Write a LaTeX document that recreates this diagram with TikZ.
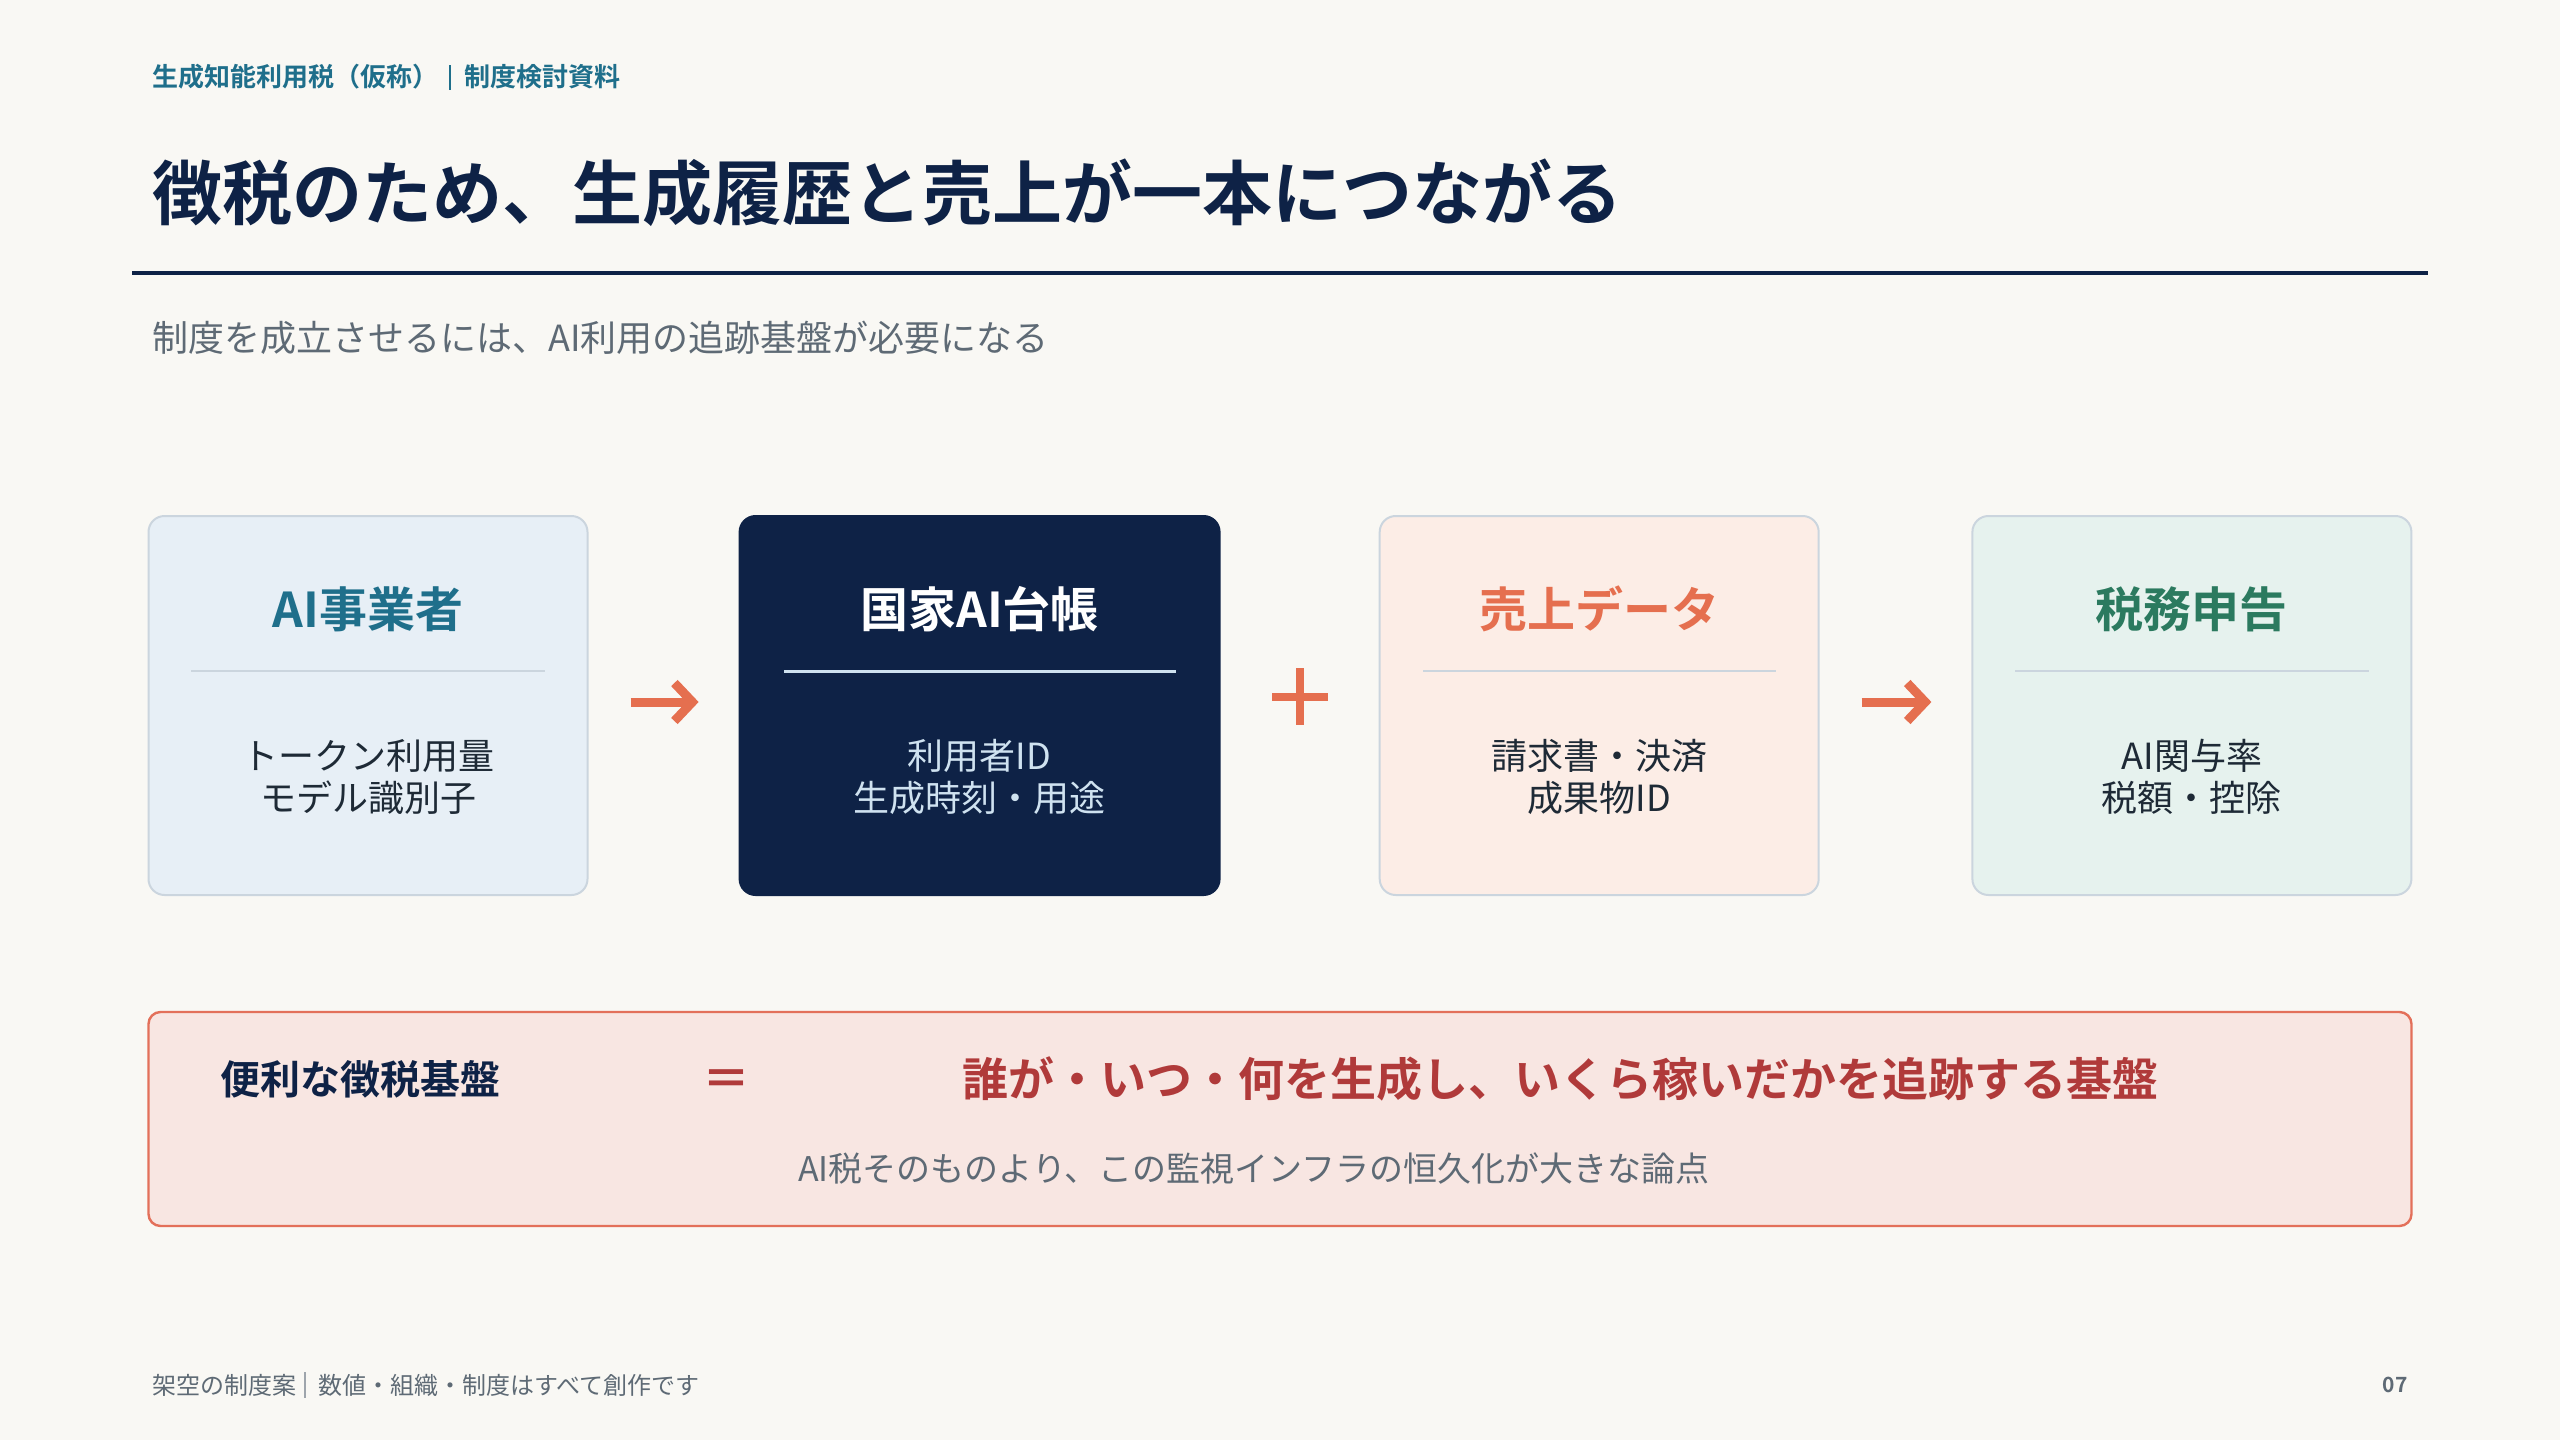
\documentclass[tikz,border=0pt]{standalone}
\usepackage{fontspec}
\setmainfont{Noto Sans CJK JP}[BoldFont={Noto Sans CJK JP Bold}]
\usetikzlibrary{arrows.meta}
\definecolor{bg}{HTML}{F9F8F4}
\definecolor{navy}{HTML}{0E2246}
\definecolor{tealc}{HTML}{1F6F8B}
\definecolor{coral}{HTML}{E56F4F}
\definecolor{greenc}{HTML}{2B7A5F}
\definecolor{redc}{HTML}{B03A3A}
\definecolor{grayt}{HTML}{5E6A75}
\definecolor{bodyt}{HTML}{1E2A36}
\definecolor{lightt}{HTML}{CFE2F0}
\definecolor{f1}{HTML}{E7EFF6}
\definecolor{f3}{HTML}{FCEDE6}
\definecolor{f4}{HTML}{E6F2EE}
\definecolor{bordc}{HTML}{CBD5DE}
\definecolor{botfill}{HTML}{F8E6E2}
\definecolor{botbord}{HTML}{E3705A}
\tikzset{
  card/.style={rectangle, rounded corners=8pt, line width=1pt, draw=bordc, minimum width=219.5pt, minimum height=189.5pt, inner sep=0pt},
  cardtitle/.style={inner sep=0pt, font=\fontsize{24pt}{28pt}\selectfont\bfseries},
  cardbody/.style={inner sep=0pt, align=center, font=\fontsize{18pt}{21pt}\selectfont},
  sepline/.style={line width=1pt, draw=bordc},
  flowarrow/.style={draw=coral, line width=4.5pt, -{Straight Barb[length=9pt, width=19pt, line width=4.5pt]}},
  plain/.style={inner sep=0pt, anchor=west}
}
\begin{document}
\begin{tikzpicture}[x=0.5pt,y=-0.5pt]
\fill[bg] (0,0) rectangle (2560,1440);
\useasboundingbox (0,0) rectangle (2560,1440);

% header
\node[plain, text=tealc, font=\fontsize{13pt}{15pt}\selectfont\bfseries] (hdrA) at (152,77) {生成知能利用税（仮称）};
\draw[tealc, line width=0.8pt] (450,65) -- (450,90);
\node[plain, text=tealc, font=\fontsize{13pt}{15pt}\selectfont\bfseries] (hdrB) at (464,77) {制度検討資料};

% title
\node[plain, text=navy, font=\fontsize{35pt}{42pt}\selectfont\bfseries] (title) at (152,193) {徴税のため、生成履歴と売上が一本につながる};
\draw[navy, line width=2pt] (132,273) -- (2428,273);
\node[plain, text=grayt, font=\fontsize{18pt}{21pt}\selectfont] (sub) at (152,338) {制度を成立させるには、AI利用の追跡基盤が必要になる};

% cards
\node[card, fill=f1] (b1) at (368,705.5) {};
\node[card, fill=navy, draw=navy, minimum width=240pt] (b2) at (979.6,705.5) {};
\node[card, fill=f3, draw=bordc] (b3) at (1599.2,705.5) {};
\node[card, fill=f4] (b4) at (2191.9,705.5) {};

\node[cardtitle, text=tealc] (t1) at (368,609) {AI事業者};
\node[cardtitle, text=white] (t2) at (979.6,609) {国家AI台帳};
\node[cardtitle, text=coral] (t3) at (1599.2,609) {売上データ};
\node[cardtitle, text=greenc] (t4) at (2191.9,609) {税務申告};

\draw[sepline] (191,671) -- (545,671);
\draw[line width=1.5pt, draw=lightt] (784,671) -- (1176,671);
\draw[sepline] (1423,671) -- (1776,671);
\draw[sepline] (2015,671) -- (2369,671);

\node[cardbody, text=bodyt] (d1) at (368,777) {トークン利用量\\モデル識別子};
\node[cardbody, text=lightt] (d2) at (979.6,777) {利用者ID\\生成時刻・用途};
\node[cardbody, text=bodyt] (d3) at (1599.2,777) {請求書・決済\\成果物ID};
\node[cardbody, text=bodyt] (d4) at (2191.9,777) {AI関与率\\税額・控除};

% connectors
\draw[flowarrow, shorten <=21pt, shorten >=20pt] (b1.east |- 0,702) -- (b2.west |- 0,702);
\draw[flowarrow, shorten <=21pt, shorten >=20pt] (b3.east |- 0,702) -- (b4.west |- 0,702);
\draw[coral, line width=4pt] (1272,697) -- (1328,697);
\draw[coral, line width=4pt] (1300,668) -- (1300,725);

% bottom box
\node[rectangle, rounded corners=6pt, fill=botfill, draw=botbord, line width=1.2pt, minimum width=1131.5pt, minimum height=107pt, inner sep=0pt] (bot) at (1280,1119) {};
\node[plain, text=navy, font=\fontsize{20pt}{24pt}\selectfont\bfseries] (lab) at (220,1079) {便利な徴税基盤};
\node[inner sep=0pt, text=redc, font=\fontsize{24pt}{28pt}\selectfont\bfseries] (eq) at (726,1083) {＝};
\node[inner sep=0pt, text=redc, font=\fontsize{23pt}{28pt}\selectfont\bfseries] (main) at (1560,1079) {誰が・いつ・何を生成し、いくら稼いだかを追跡する基盤};
\node[inner sep=0pt, text=grayt, font=\fontsize{17pt}{20pt}\selectfont] (note) at (1254,1169) {AI税そのものより、この監視インフラの恒久化が大きな論点};

% footer
\node[plain, text=grayt, font=\fontsize{12pt}{14pt}\selectfont] (fA) at (152,1385) {架空の制度案};
\draw[grayt!60, line width=0.6pt] (305,1372) -- (305,1398);
\node[plain, text=grayt, font=\fontsize{12pt}{14pt}\selectfont] (fB) at (318,1385) {数値・組織・制度はすべて創作です};
\node[inner sep=0pt, anchor=east, text=grayt, font=\fontsize{10.5pt}{13pt}\selectfont\bfseries] (pg) at (2408,1385) {07};
\end{tikzpicture}
\end{document}
